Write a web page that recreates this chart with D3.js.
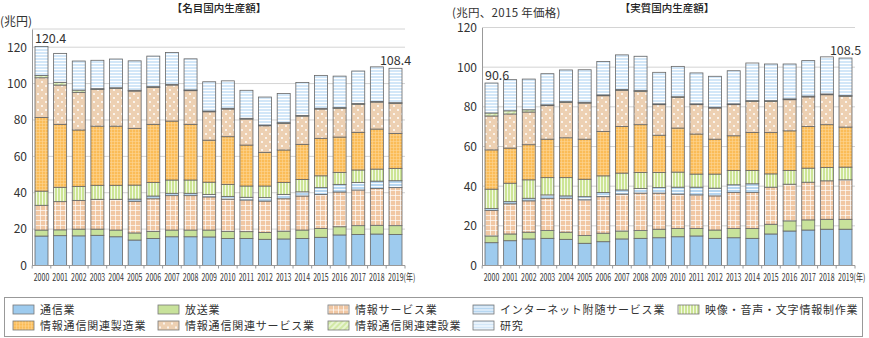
<!DOCTYPE html>
<html><head><meta charset="utf-8">
<script src="https://cdn.jsdelivr.net/npm/d3@7"></script>
<style>
html,body{margin:0;padding:0;background:#fff;}
svg{display:block;font-family:"Noto Sans CJK JP","Noto Sans",sans-serif;}
</style></head>
<body><svg id="c" width="869" height="338"></svg>
<script>
const years = ["2000","2001","2002","2003","2004","2005","2006","2007","2008","2009","2010","2011","2012","2013","2014","2015","2016","2017","2018","2019"];
const seriesNames = ["通信業","放送業","情報サービス業","インターネット附随サービス業","映像・音声・文字情報制作業","情報通信関連製造業","情報通信関連サービス業","情報通信関連建設業","研究"];
const yTicksNominal = [0,20,40,60,80,100,120];
const yTicksReal = [0,20,40,60,80,100,120];
const titles = ["【名目国内生産額】","【実質国内生産額】"];
const unitLabels = ["(兆円)","(兆円、2015 年価格)"];

// 名目 (nominal)
const nomTelecom      = [16.2,16.4,16.3,16.6,15.8,14.0,14.9,15.8,15.8,15.7,14.9,14.9,14.4,14.6,14.9,15.5,16.8,17.1,17.3,17.1];
const nomBroadcast    = [3.3,3.2,3.7,3.4,3.7,3.9,3.9,3.7,3.7,3.8,3.9,3.7,3.8,4.3,4.6,4.9,4.5,4.8,4.8,4.8];
const nomInfoService  = [13.6,15.5,15.8,16.4,16.9,17.4,17.9,18.9,18.9,18.2,17.7,17.4,17.2,17.8,18.7,18.7,19.1,19.6,20.3,20.9];
const nomInternet     = [0,0,0,0,0,1.2,1.5,1.3,1.3,1.4,1.5,1.5,1.9,2.4,2.3,3.7,4.2,4.2,4.0,3.8];
const nomMedia        = [7.8,7.9,7.7,7.7,7.7,7.7,7.5,7.3,7.3,6.7,6.6,6.2,6.4,6.6,6.8,6.5,6.6,6.8,6.6,6.8];
const nomManufacturing= [40.5,34.6,31.0,32.5,32.5,31.2,31.9,32.4,30.6,23.1,26.2,22.5,18.5,17.8,19.3,20.6,19.4,20.7,22.0,19.2];
const nomRelatedSvc   = [21.8,21.6,20.7,20.2,20.7,20.5,20.3,19.8,18.5,15.6,15.2,14.3,14.6,14.6,15.5,16.1,15.8,15.4,14.8,16.5];
const nomConstruction = [1.3,1.5,1.2,0.4,0.4,0.4,0.4,0.4,0.4,0.4,0.4,0.4,0.4,0.4,0.4,0.4,0.4,0.4,0.4,0.4];
const nomResearch     = [15.9,15.9,16.0,15.6,15.8,16.2,16.8,17.5,17.1,16.1,15.1,15.4,15.4,16.1,18.1,18.1,17.3,17.9,19.0,18.9];
const nomTotalLabels  = [{i:0,text:"120.4"},{i:19,text:"108.4"}];

// 実質 (real, 2015 prices)
const realTelecom      = [11.5,12.5,13.4,13.7,13.2,11.2,12.0,13.4,13.7,14.0,14.5,14.9,13.7,14.0,13.7,15.9,17.4,17.9,18.3,18.3];
const realBroadcast    = [3.4,3.4,3.4,3.9,3.6,3.9,4.3,4.0,3.9,4.3,4.1,3.7,4.2,4.6,4.9,4.9,5.1,5.1,5.0,5.0];
const realInfoService  = [12.8,15.2,15.8,16.3,17.1,18.0,18.4,18.6,18.9,18.2,17.4,17.0,17.2,18.2,18.2,18.7,18.5,19.0,19.4,19.9];
const realInternet     = [1.0,1.1,1.3,1.7,1.2,1.6,2.1,2.1,2.3,2.8,3.5,3.9,3.9,3.9,4.4,0,0,0,0,0];
const realMedia        = [9.8,9.3,9.3,8.7,9.2,8.8,8.4,8.5,8.1,7.6,7.6,6.6,7.1,7.2,6.7,6.7,6.9,7.1,6.7,6.4];
const realManufacturing= [19.8,17.7,17.7,19.4,20.1,20.2,22.4,23.5,24.1,18.8,22.2,20.2,17.6,17.5,19.2,20.8,20.0,21.0,21.6,20.2];
const realRelatedSvc   = [17.1,17.2,16.5,16.9,17.8,18.2,18.0,18.2,16.8,15.4,15.4,14.8,15.7,15.7,15.6,15.7,15.7,14.9,15.1,15.5];
const realConstruction = [1.5,1.6,1.1,0.4,0.4,0.4,0.4,0.4,0.4,0.4,0.4,0.4,0.4,0.4,0.4,0.4,0.4,0.4,0.4,0.4];
const realResearch     = [15.1,15.7,15.5,15.7,16.0,16.4,16.9,17.5,17.3,15.9,15.3,15.6,15.6,16.7,19.0,18.5,17.6,17.9,18.7,18.9];
const realTotalLabels  = [{i:0,text:"90.6"},{i:19,text:"108.5"}];

const svg = d3.select("#c");
const defs = svg.append("defs");

function pattern(id, w, h, bg, draw, transform){
  const p = defs.append("pattern").attr("id",id).attr("patternUnits","userSpaceOnUse")
    .attr("width",w).attr("height",h);
  if (transform) p.attr("patternTransform",transform);
  p.append("rect").attr("width",w).attr("height",h).attr("fill",bg);
  draw(p);
}
pattern("p-info",5,5,"#f1c7a3",p=>{p.append("path").attr("d","M0 0.5H5M0.5 0V5").attr("stroke","#fff").attr("stroke-opacity",0.75).attr("stroke-width",0.9);});
pattern("p-net",4,3,"#b7d7f1",p=>{p.append("path").attr("d","M0 0.5H4").attr("stroke","#fff").attr("stroke-opacity",0.9).attr("stroke-width",1);});
pattern("p-media",3,4,"#cde596",p=>{p.append("path").attr("d","M0.5 0V4").attr("stroke","#fff").attr("stroke-opacity",0.85).attr("stroke-width",0.9);});
pattern("p-mfg",3,3,"#fbbc57",p=>{p.append("path").attr("d","M0 0.5H3M0.5 0V3").attr("stroke","#fdd594").attr("stroke-width",0.6);});
pattern("p-svc",8,8,"#edd0b2",p=>{p.append("circle").attr("cx",2).attr("cy",2).attr("r",1).attr("fill","#fff");p.append("circle").attr("cx",6).attr("cy",6).attr("r",1).attr("fill","#fff");});
pattern("p-cons",4,4,"#d2e9a6",p=>{p.append("path").attr("d","M1 0V4").attr("stroke","#fff").attr("stroke-width",1);},"rotate(45)");
pattern("p-res",4,3,"#d3e7f8",p=>{p.append("path").attr("d","M0 0.5H4").attr("stroke","#fff").attr("stroke-width",1);});

const fills = ["#9ecbee","#c8e29b","url(#p-info)","url(#p-net)","url(#p-media)","url(#p-mfg)","url(#p-svc)","url(#p-cons)","url(#p-res)"];

function drawChart(cfg){
  const {x0,x1,yTop,yMax,ticks,series,title,titleX,unit,unitX,unitY,unitSize,totals} = cfg;
  const yBottom = 265.5;
  const x = d3.scaleBand().domain(years).range([x0,x1]).paddingInner(0.302).paddingOuter(0.161);
  const y = d3.scaleLinear().domain([0,yMax]).range([yBottom,yTop]);
  const g = svg.append("g");

  // gridlines
  const gridVals = ticks.filter(t=>t>0).concat(yMax>ticks[ticks.length-1]?[yMax]:[]);
  g.selectAll(".grid").data(gridVals).join("line")
    .attr("x1",x0).attr("x2",x1).attr("y1",d=>y(d)).attr("y2",d=>y(d))
    .attr("stroke","#d4d4d4").attr("stroke-width",1);

  // y axis
  const ya = g.append("g").attr("transform",`translate(${x0},0)`)
    .call(d3.axisLeft(y).tickValues(ticks).tickSize(0).tickPadding(5));
  ya.select(".domain").attr("stroke","#999");
  ya.selectAll("text").attr("font-size",12).attr("fill","#333")
    .attr("font-family","'Noto Sans CJK JP',sans-serif");

  // stacks
  const rows = years.map((yr,i)=>{const o={year:yr}; series.forEach((s,k)=>o["s"+k]=s[i]); return o;});
  const stack = d3.stack().keys(series.map((s,k)=>"s"+k))(rows);
  const layers = g.selectAll(".layer").data(stack).join("g").attr("fill",(d,k)=>fills[k]);
  layers.selectAll("rect").data(d=>d).join("rect")
    .attr("x",d=>x(d.data.year)).attr("width",x.bandwidth())
    .attr("y",d=>y(d[1])).attr("height",d=>Math.max(0,y(d[0])-y(d[1])))
    .attr("stroke","#666").attr("stroke-width",0.8);

  // bottom axis line and ticks
  g.append("line").attr("x1",x0).attr("x2",x1).attr("y1",yBottom).attr("y2",yBottom).attr("stroke","#999");
  const step = x.step();
  const tickXs = years.map(yr=>x(yr)-step*0.151).concat([x1]);
  g.selectAll(".xt").data(tickXs).join("line")
    .attr("x1",d=>d).attr("x2",d=>d).attr("y1",yBottom).attr("y2",yBottom+3).attr("stroke","#999");
  g.selectAll(".xl").data(years).join("text")
    .attr("transform",(d,i)=>{
      const px = i===years.length-1 ? x(d)-1 : x(d)+x.bandwidth()/2;
      return `translate(${px},280.5) scale(0.7,1)`;
    })
    .attr("text-anchor",(d,i)=> i===years.length-1 ? "start":"middle")
    .attr("font-size",10).attr("fill","#333")
    .text((d,i)=> i===years.length-1 ? d+"(年)" : d);

  // totals
  totals.forEach(t=>{
    const yr = years[t.i];
    const total = d3.sum(series, s=>s[t.i]);
    g.append("text")
      .attr("x", t.i===0 ? x(yr) : x(yr)+x.bandwidth()/2)
      .attr("text-anchor", t.i===0 ? "start":"middle")
      .attr("y", y(total)-3.5)
      .attr("font-size",12.5).attr("fill","#333").text(t.text);
  });

  svg.append("text").attr("x",titleX).attr("y",11.5).attr("text-anchor","middle")
    .attr("font-size",10.5).attr("font-weight",500).attr("fill","#222").text(title);
  svg.append("text").attr("x",unitX).attr("y",unitY).attr("font-size",unitSize)
    .attr("letter-spacing",unitSize<12?0.3:0).attr("fill","#333").text(unit);
}

drawChart({x0:32,x1:405,yTop:29,yMax:130,ticks:yTicksNominal,
  series:[nomTelecom,nomBroadcast,nomInfoService,nomInternet,nomMedia,nomManufacturing,nomRelatedSvc,nomConstruction,nomResearch],
  title:titles[0],titleX:219,unit:unitLabels[0],unitX:0,unitY:26,unitSize:12,totals:nomTotalLabels});
drawChart({x0:482,x1:855,yTop:27.5,yMax:120,ticks:yTicksReal,
  series:[realTelecom,realBroadcast,realInfoService,realInternet,realMedia,realManufacturing,realRelatedSvc,realConstruction,realResearch],
  title:titles[1],titleX:667,unit:unitLabels[1],unitX:452,unitY:16.5,unitSize:11.5,totals:realTotalLabels});

// legend
svg.append("rect").attr("x",4.5).attr("y",297.5).attr("width",858).attr("height",39)
  .attr("fill","#fff").attr("stroke","#999");
const legendLayout = [
  {k:0,x:13,row:0},{k:1,x:158,row:0},{k:2,x:328,row:0},{k:3,x:473,row:0},{k:4,x:678,row:0},
  {k:5,x:13,row:1},{k:6,x:158,row:1},{k:7,x:328,row:1},{k:8,x:473,row:1}
];
const lg = svg.append("g");
const items = lg.selectAll("g").data(legendLayout).join("g")
  .attr("transform",d=>`translate(${d.x},${d.row===0?309.5:325.5})`);
items.append("rect").attr("x",0).attr("y",-4.5).attr("width",21).attr("height",9)
  .attr("fill",d=>fills[d.k]).attr("stroke","#777").attr("stroke-width",0.8);
items.append("text").attr("x",27).attr("y",4).attr("font-size",11).attr("letter-spacing",0.8).attr("fill","#333")
  .text(d=>seriesNames[d.k]);
</script></body></html>
